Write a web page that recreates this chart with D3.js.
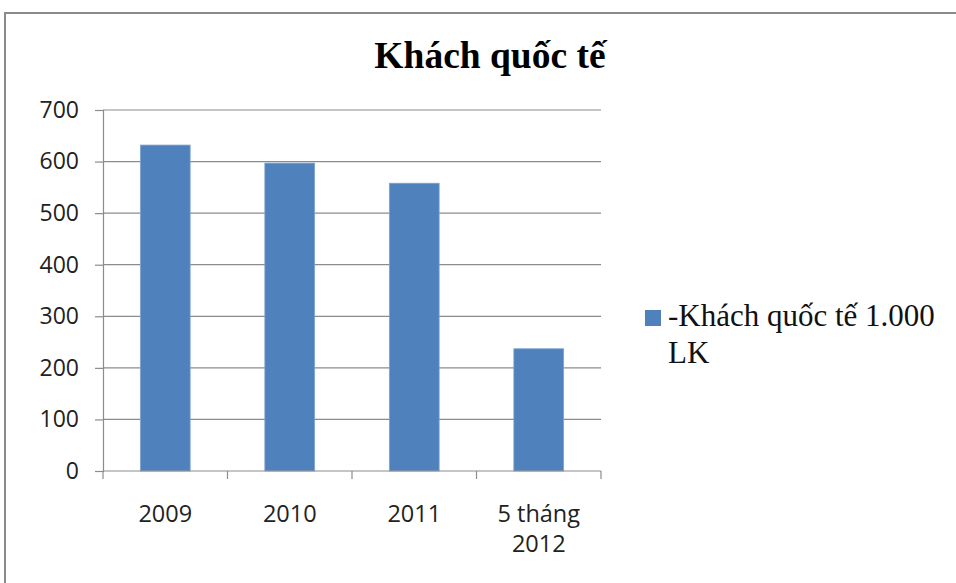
<!DOCTYPE html>
<html>
<head>
<meta charset="utf-8">
<script src="https://cdn.jsdelivr.net/npm/d3@7"></script>
<style>
  body { margin: 0; background: #fff; }
  svg { display: block; }
</style>
</head>
<body>
<div id="chart"></div>
<script>
"use strict";

// chart data
var categories = ["2009", "2010", "2011", "5 tháng\n2012"];
var visitors = [632, 597, 558, 237];
var yTicks = [0, 100, 200, 300, 400, 500, 600, 700];
var titleText = "Khách quốc tế";
var legendLines = ["-Khách quốc tế 1.000", "LK"];

// svg parameters
var svgWidth = 956;
var svgHeight = 583;
var plotLeft = 103, plotRight = 601, plotTop = 110, plotBottom = 471;
var barColor = "#4F81BD";
var gridColor = "#8c8c8c";

var svg = d3.select("#chart").append("svg")
    .attr("width", svgWidth).attr("height", svgHeight);

// outer frame
svg.append("path")
    .attr("d", "M5," + svgHeight + "V13H" + svgWidth)
    .attr("fill", "none").attr("stroke", "#8a8a8a").attr("stroke-width", 2);

var x = d3.scaleBand().domain(categories).range([plotLeft, plotRight])
    .paddingInner(0.6).paddingOuter(0.3);
var y = d3.scaleLinear().domain([0, 700]).range([plotBottom, plotTop]);

// gridlines
svg.append("g").selectAll("line").data(yTicks.slice(1)).enter()
    .append("line")
    .attr("x1", plotLeft).attr("x2", plotRight)
    .attr("y1", function (d) { return y(d); })
    .attr("y2", function (d) { return y(d); })
    .attr("stroke", gridColor).attr("stroke-width", 1.2);

// bars
svg.append("g").selectAll("rect").data(visitors).enter()
    .append("rect")
    .attr("x", function (d, i) { return x(categories[i]); })
    .attr("y", function (d) { return y(d); })
    .attr("width", x.bandwidth())
    .attr("height", function (d) { return y(0) - y(d); })
    .attr("fill", barColor)
    .attr("stroke", "#7fa3d0").attr("stroke-width", 0.8);

// y axis
var yAxis = svg.append("g").attr("transform", "translate(" + plotLeft + ",0)")
    .call(d3.axisLeft(y).tickValues(yTicks).tickSize(8).tickPadding(16));
yAxis.select(".domain").attr("stroke", gridColor).attr("stroke-width", 1.2);
yAxis.selectAll(".tick line").attr("stroke", gridColor).attr("stroke-width", 1.2);
yAxis.selectAll(".tick text")
    .attr("font-family", "'Open Sans', sans-serif").attr("font-size", 23)
    .attr("fill", "#222");

// x axis: ticks at category boundaries
var xAxisG = svg.append("g");
xAxisG.append("line")
    .attr("x1", plotLeft).attr("x2", plotRight)
    .attr("y1", plotBottom).attr("y2", plotBottom)
    .attr("stroke", gridColor).attr("stroke-width", 1.2);
var boundaries = categories.map(function (c) { return x(c) - x.step() * x.paddingInner() / 2; });
boundaries[0] = plotLeft;
boundaries.push(plotRight);
xAxisG.selectAll("line.tk").data(boundaries).enter()
    .append("line").attr("class", "tk")
    .attr("x1", function (d) { return d; }).attr("x2", function (d) { return d; })
    .attr("y1", plotBottom).attr("y2", plotBottom + 8)
    .attr("stroke", gridColor).attr("stroke-width", 1.2);

var xLabels = xAxisG.selectAll("text").data(categories).enter()
    .append("text")
    .attr("x", function (d) { return x(d) + x.bandwidth() / 2; })
    .attr("y", 522)
    .attr("text-anchor", "middle")
    .attr("font-family", "'Open Sans', sans-serif").attr("font-size", 23.5)
    .attr("fill", "#222");
xLabels.selectAll("tspan").data(function (d) { return d.split("\n"); }).enter()
    .append("tspan")
    .attr("x", function () { return d3.select(this.parentNode).attr("x"); })
    .attr("dy", function (d, i) { return i === 0 ? 0 : 29.5; })
    .text(function (d) { return d; });

// title
svg.append("text")
    .attr("x", 490).attr("y", 68)
    .attr("text-anchor", "middle")
    .attr("font-family", "'Liberation Serif', 'Times New Roman', serif")
    .attr("font-weight", "bold").attr("font-size", 37.5)
    .text(titleText);

// legend
svg.append("rect")
    .attr("x", 645).attr("y", 310).attr("width", 16).attr("height", 16)
    .attr("fill", barColor);
var legendText = svg.append("text")
    .attr("font-family", "'Liberation Serif', 'Times New Roman', serif")
    .attr("font-size", 31).attr("fill", "#111");
legendText.selectAll("tspan").data(legendLines).enter()
    .append("tspan")
    .attr("x", 668)
    .attr("y", function (d, i) { return 326 + i * 36.5; })
    .text(function (d) { return d; });
</script>
</body>
</html>
